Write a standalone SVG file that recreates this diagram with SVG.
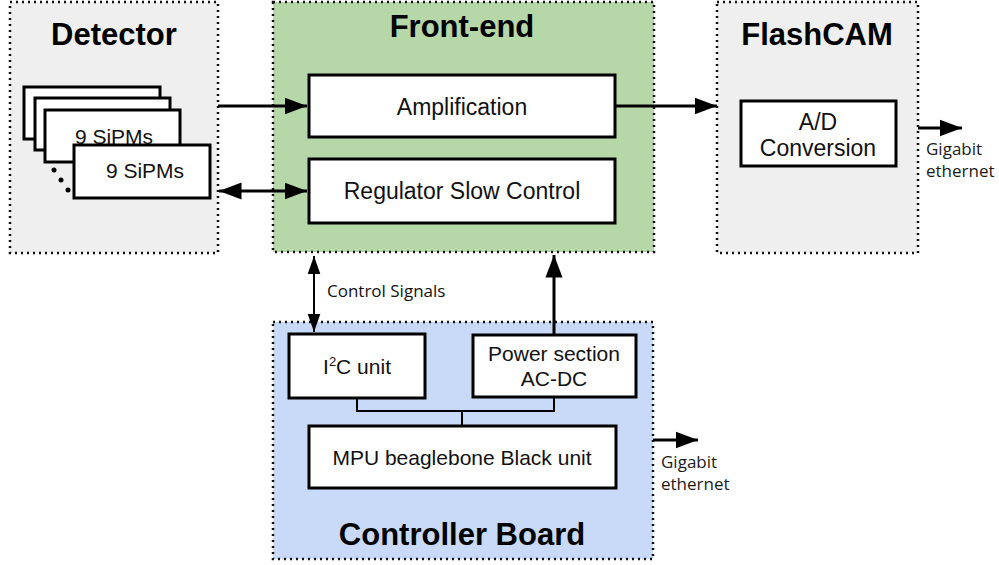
<svg xmlns="http://www.w3.org/2000/svg" width="999" height="565" viewBox="0 0 999 565">
<style>
.grp{stroke:#111;stroke-width:2.5;stroke-dasharray:2 4}
.box{fill:#fff;stroke:#000;stroke-width:3}
.t{font-family:"Liberation Sans",Arial,sans-serif;font-size:23px;fill:#111;text-anchor:middle}
.t2{font-family:"Liberation Sans",Arial,sans-serif;font-size:21px;fill:#111;text-anchor:middle}
.title{font-family:"Liberation Sans",Arial,sans-serif;font-size:31px;font-weight:bold;fill:#000;text-anchor:middle}
.s{font-family:"Open Sans","Noto Sans",sans-serif;font-size:17px;fill:#111}
.g{font-family:"Open Sans","Noto Sans",sans-serif;font-size:17px;fill:#1a1a1a}
.ln{stroke:#000;stroke-width:3;fill:none}
.thin{stroke:#000;stroke-width:2;fill:none}
</style>
<defs>
<marker id="ah" viewBox="0 0 10 10" refX="10" refY="5" markerWidth="7.5" markerHeight="7.5" markerUnits="strokeWidth" orient="auto-start-reverse"><path d="M0,1.2 L10,5 L0,8.8 Z" fill="#000"/></marker>
<marker id="ah2" viewBox="0 0 10 10" refX="10" refY="5" markerWidth="9" markerHeight="9" markerUnits="strokeWidth" orient="auto-start-reverse"><path d="M0,1.5 L10,5 L0,8.5 Z" fill="#000"/></marker>
</defs>
<g id="detector">
<rect x="10" y="2" width="208" height="251" fill="#efefef" class="grp"/>
<text x="114" y="45" class="title">Detector</text>
<rect x="24" y="87" width="136" height="52" class="box"/>
<rect x="35" y="98" width="135" height="52" class="box"/>
<rect x="45" y="110" width="135" height="52" class="box"/>
<text x="114" y="144" class="t2" font-size="20">9 SiPMs</text>
<rect x="74" y="145" width="136" height="53" class="box"/>
<text x="145" y="178" class="t2" font-size="20">9 SiPMs</text>
<circle cx="54" cy="170" r="2.5" fill="#000"/>
<circle cx="61" cy="180" r="2.5" fill="#000"/>
<circle cx="68" cy="190" r="2.5" fill="#000"/>
</g>
<g id="frontend">
<rect x="273" y="2" width="381" height="250" fill="#b6d7a8" class="grp"/>
<text x="462" y="37" class="title" font-size="30">Front-end</text>
</g>
<g id="amplification">
<rect x="309" y="75" width="306" height="62" class="box"/>
<text x="462" y="115" class="t">Amplification</text>
</g>
<g id="regulator">
<rect x="309" y="159" width="306" height="64" class="box"/>
<text x="462" y="199" class="t">Regulator Slow Control</text>
</g>
<g id="flashcam">
<rect x="717" y="2" width="201" height="251" fill="#efefef" class="grp"/>
<text x="817" y="45" class="title">FlashCAM</text>
</g>
<g id="adconversion">
<rect x="741" y="101" width="155" height="65" class="box"/>
<text x="818" y="130" class="t">A/D</text>
<text x="818" y="156" class="t">Conversion</text>
</g>
<g id="controller">
<rect x="273" y="322" width="380" height="237" fill="#c9daf8" class="grp"/>
<text x="462" y="545" class="title">Controller Board</text>
</g>
<g id="i2c">
<rect x="289" y="334" width="136" height="64" class="box"/>
<text x="357" y="374" class="t2">I<tspan font-size="13" dy="-8">2</tspan><tspan dy="8">C unit</tspan></text>
</g>
<g id="power">
<rect x="473" y="335" width="163" height="62" class="box"/>
<text x="554" y="361" class="t2">Power section</text>
<text x="554" y="386" class="t2">AC-DC</text>
</g>
<g id="mpu">
<rect x="309" y="426" width="307" height="62" class="box"/>
<text x="462" y="465" class="t2">MPU beaglebone Black unit</text>
</g>
<g id="connectors">
<line x1="218" y1="106" x2="307" y2="106" class="ln" marker-end="url(#ah)"/>
<line x1="219" y1="191" x2="307" y2="191" class="ln" marker-start="url(#ah)" marker-end="url(#ah)"/>
<line x1="615" y1="106" x2="717" y2="106" class="ln" marker-end="url(#ah)"/>
<line x1="918" y1="128" x2="962" y2="128" class="ln" marker-end="url(#ah)"/>
<line x1="314" y1="256" x2="314" y2="332" class="thin" marker-start="url(#ah2)" marker-end="url(#ah2)"/>
<line x1="554" y1="335" x2="554" y2="255" class="ln" marker-end="url(#ah)"/>
<path d="M357,398 V411 H554 V397 M462,411 V426" class="thin"/>
<line x1="653" y1="440" x2="698" y2="440" class="ln" marker-end="url(#ah)"/>
</g>
<g id="labels">
<text x="327" y="297" class="s">Control Signals</text>
<text x="926" y="155" class="g">Gigabit</text>
<text x="926" y="177" class="g">ethernet</text>
<text x="661" y="468" class="g">Gigabit</text>
<text x="661" y="490" class="g">ethernet</text>
</g>
</svg>
